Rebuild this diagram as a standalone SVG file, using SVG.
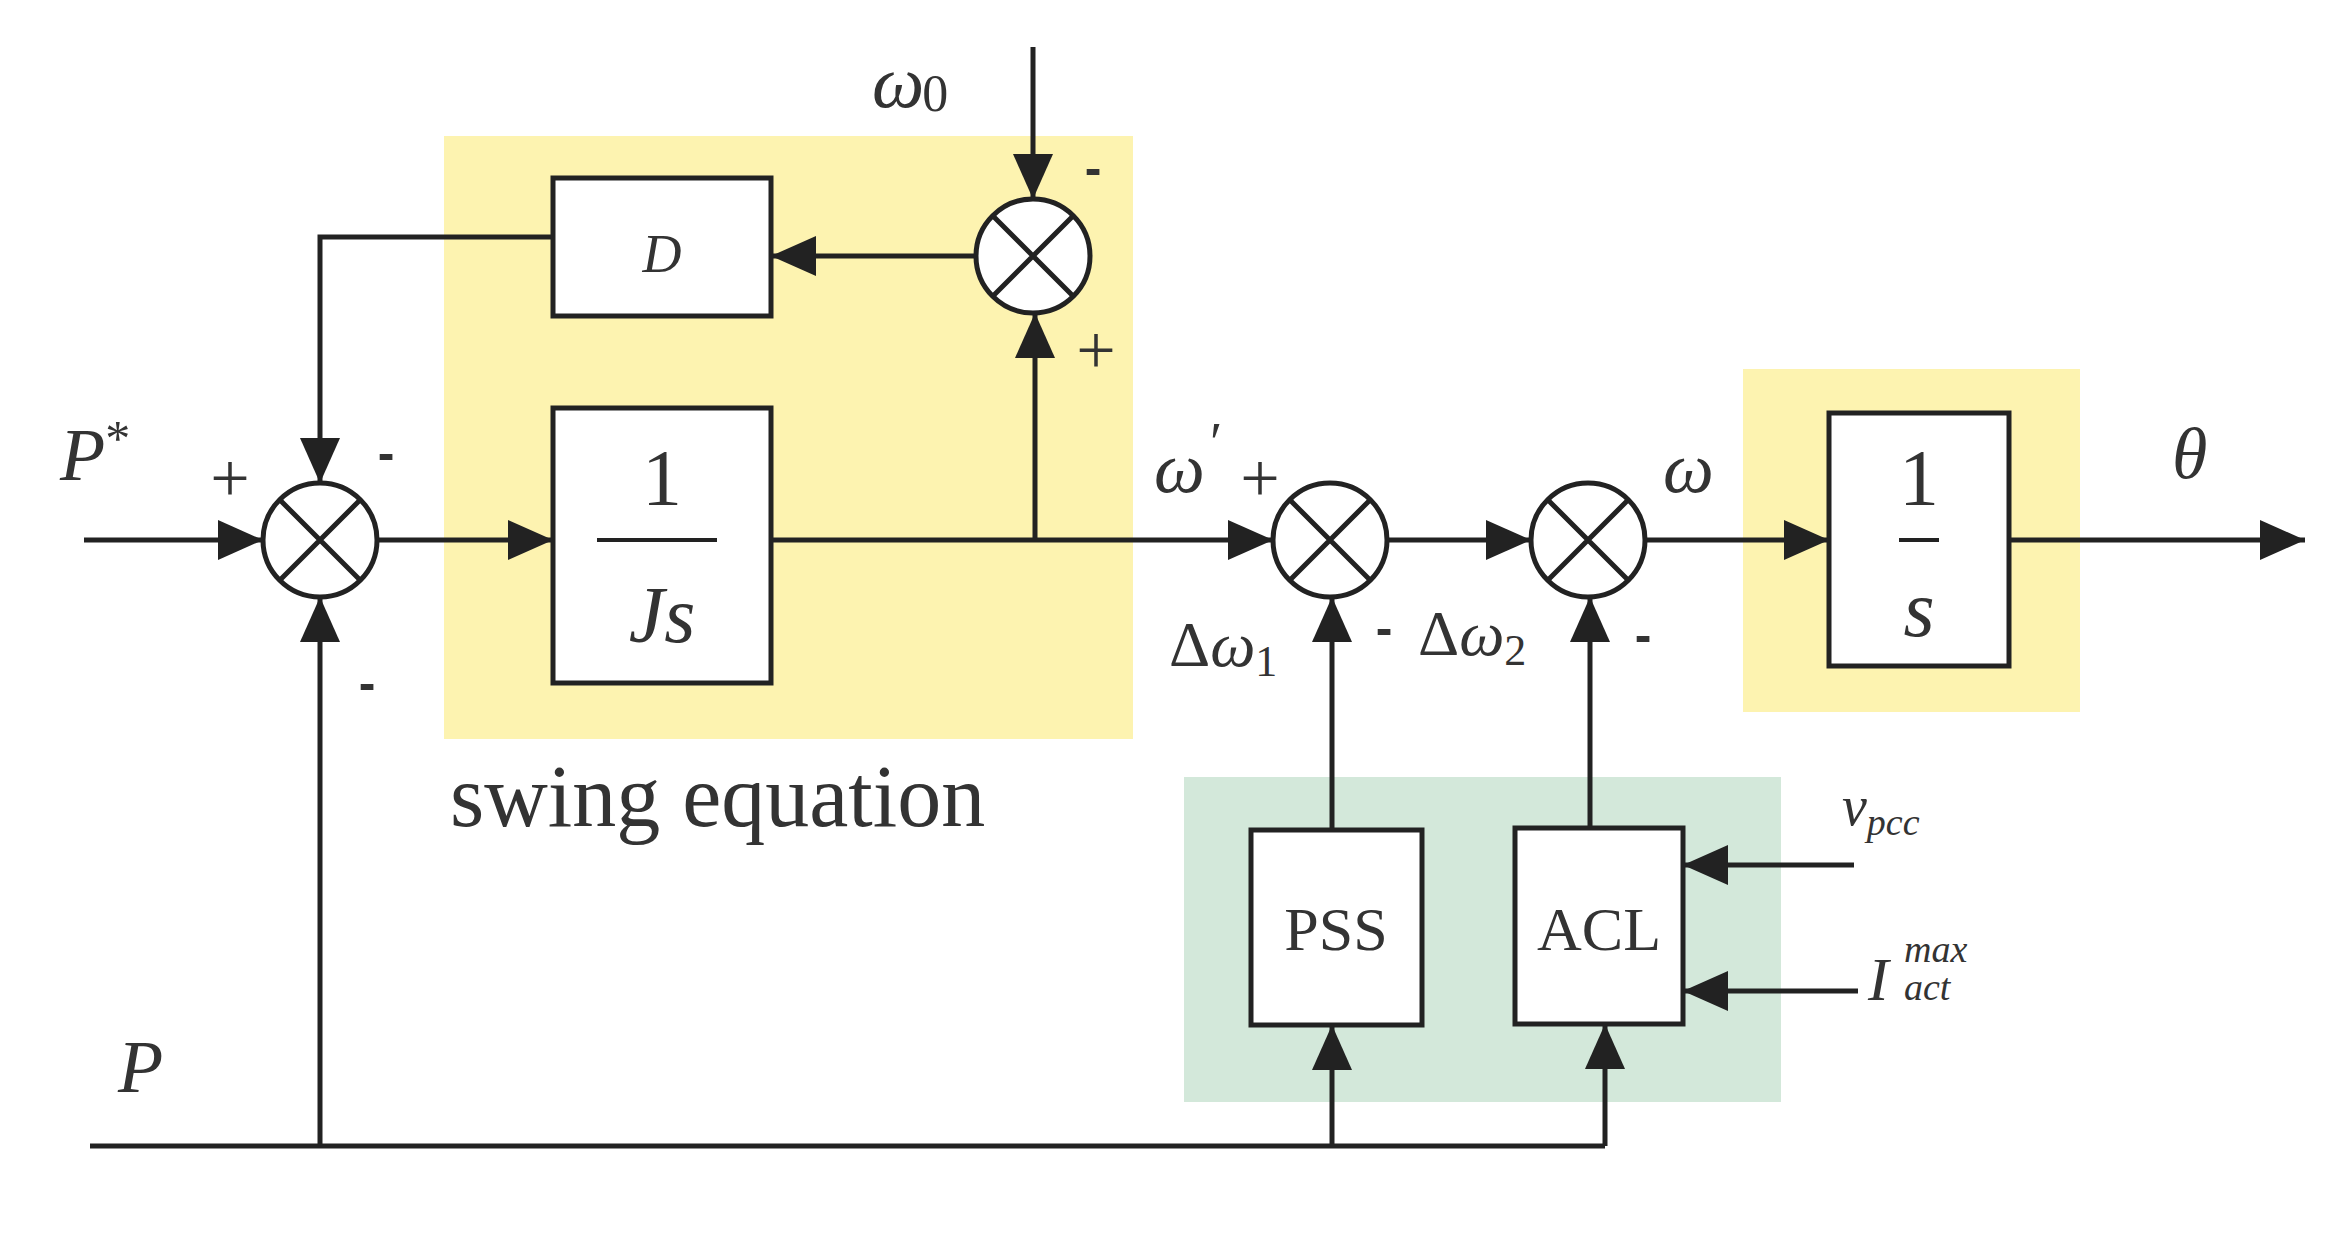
<svg xmlns="http://www.w3.org/2000/svg" width="2346" height="1236" viewBox="0 0 2346 1236">
<style>
.ln{stroke:#222;stroke-width:5;fill:none}
.bx{stroke:#222;stroke-width:5;fill:#fff}
.t{font-family:"Liberation Serif",serif;fill:#333}
.i{font-family:"Liberation Serif",serif;font-style:italic;fill:#333}
.s{font-family:"Liberation Sans",sans-serif;font-weight:bold;fill:#333}
</style>
<defs>
<marker id="b" viewBox="0 0 45 40" refX="45" refY="20" markerWidth="45" markerHeight="40" markerUnits="userSpaceOnUse" orient="auto">
<path d="M0,0 L45,20 L0,40 z" fill="#222"/>
</marker>
</defs>
<rect width="2346" height="1236" fill="#fff"/>
<rect x="444" y="136" width="689" height="603" fill="#fdf3b0"/>
<rect x="1743" y="369" width="337" height="343" fill="#fdf3b0"/>
<rect x="1184" y="777" width="597" height="325" fill="#d3e8da"/>
<g id="connectors">
<path class="ln" d="M84,540 H263" marker-end="url(#b)"/>
<path class="ln" d="M377,540 H553" marker-end="url(#b)"/>
<path class="ln" d="M771,540 H1273" marker-end="url(#b)"/>
<path class="ln" d="M1387,540 H1531" marker-end="url(#b)"/>
<path class="ln" d="M1645,540 H1829" marker-end="url(#b)"/>
<path class="ln" d="M2009,540 H2305" marker-end="url(#b)"/>
<path class="ln" d="M1035,540 V313" marker-end="url(#b)"/>
<path class="ln" d="M1033,47 V199" marker-end="url(#b)"/>
<path class="ln" d="M976,256 H771" marker-end="url(#b)"/>
<path class="ln" d="M553,237 H320 V483" marker-end="url(#b)"/>
<path class="ln" d="M90,1146 H1605"/>
<path class="ln" d="M320,1146 V597" marker-end="url(#b)"/>
<path class="ln" d="M1332,830 V597" marker-end="url(#b)"/>
<path class="ln" d="M1590,828 V597" marker-end="url(#b)"/>
<path class="ln" d="M1332,1146 V1025" marker-end="url(#b)"/>
<path class="ln" d="M1605,1146 V1024" marker-end="url(#b)"/>
<path class="ln" d="M1854,865 H1683" marker-end="url(#b)"/>
<path class="ln" d="M1858,991 H1683" marker-end="url(#b)"/>
</g>
<g id="sum1"><circle class="bx" cx="320" cy="540" r="57"/><path class="ln" d="M280,500 L360,580 M360,500 L280,580"/></g>
<g id="sum0"><circle class="bx" cx="1033" cy="256" r="57"/><path class="ln" d="M993,216 L1073,296 M1073,216 L993,296"/></g>
<g id="sum2"><circle class="bx" cx="1330" cy="540" r="57"/><path class="ln" d="M1290,500 L1370,580 M1370,500 L1290,580"/></g>
<g id="sum3"><circle class="bx" cx="1588" cy="540" r="57"/><path class="ln" d="M1548,500 L1628,580 M1628,500 L1548,580"/></g>
<g id="D"><rect class="bx" x="553" y="178" width="218" height="138"/><text class="i" x="662" y="272" font-size="54" text-anchor="middle">D</text></g>
<g id="Js"><rect class="bx" x="553" y="408" width="218" height="275"/><text class="t" x="662" y="505" font-size="80" text-anchor="middle">1</text><path class="ln" d="M597,540 H717" style="stroke-width:4"/><text class="i" x="662" y="642" font-size="80" text-anchor="middle">Js</text></g>
<g id="integ"><rect class="bx" x="1829" y="413" width="180" height="253"/><text class="t" x="1919" y="505" font-size="80" text-anchor="middle">1</text><path class="ln" d="M1899,540 H1939" style="stroke-width:4"/><text class="i" x="1919" y="636" font-size="80" text-anchor="middle">s</text></g>
<g id="PSS"><rect class="bx" x="1251" y="830" width="171" height="195"/><text class="t" x="1336" y="950" font-size="62" text-anchor="middle">PSS</text></g>
<g id="ACL"><rect class="bx" x="1515" y="828" width="168" height="196"/><text class="t" x="1599" y="950" font-size="62" text-anchor="middle">ACL</text></g>
<g id="labels">
<text class="i" x="872" y="107" font-size="74">ω<tspan class="t" font-style="normal" font-size="52" dx="-2" dy="4">0</tspan></text>
<text class="i" x="60" y="480" font-size="74">P<tspan font-style="normal" font-size="50" dy="-25">*</tspan></text>
<text class="t" x="230" y="502" font-size="70" text-anchor="middle">+</text>
<text class="s" x="386" y="470" font-size="50" text-anchor="middle">-</text>
<text class="s" x="367" y="700" font-size="50" text-anchor="middle">-</text>
<text class="t" x="1096" y="374" font-size="70" text-anchor="middle">+</text>
<text class="s" x="1093" y="185" font-size="50" text-anchor="middle">-</text>
<text class="t" x="450" y="826" font-size="88">swing equation</text>
<text class="i" x="118" y="1092" font-size="74">P</text>
<text class="i" x="1154" y="492" font-size="72">ω</text>
<text class="t" x="1210" y="462" font-size="56">′</text>
<text class="t" x="1260" y="502" font-size="70" text-anchor="middle">+</text>
<text class="i" x="1169" y="666" font-size="64"><tspan font-style="normal">Δ</tspan>ω<tspan font-style="normal" font-size="44" dy="10">1</tspan></text>
<text class="s" x="1384" y="645" font-size="50" text-anchor="middle">-</text>
<text class="i" x="1418" y="655" font-size="64"><tspan font-style="normal">Δ</tspan>ω<tspan font-style="normal" font-size="44" dy="10">2</tspan></text>
<text class="s" x="1643" y="652" font-size="50" text-anchor="middle">-</text>
<text class="i" x="1663" y="492" font-size="72">ω</text>
<text class="i" x="2172" y="478" font-size="72">θ</text>
<text class="i" x="1842" y="825" font-size="56">v<tspan font-size="38" dy="10">pcc</tspan></text>
<text class="i" x="1868" y="1000" font-size="62">I</text>
<text class="i" x="1904" y="962" font-size="38">max</text>
<text class="i" x="1904" y="1000" font-size="38">act</text>
</g>
</svg>
